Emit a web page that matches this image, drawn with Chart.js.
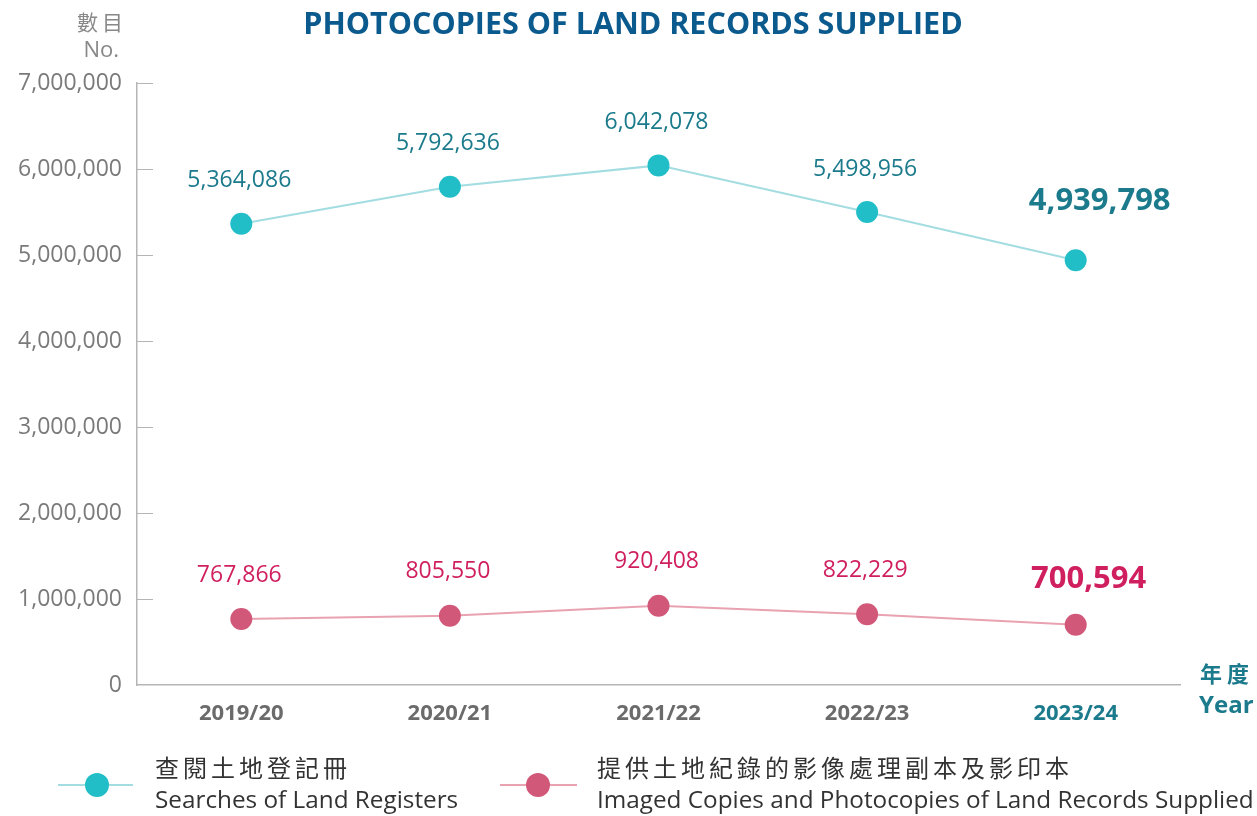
<!DOCTYPE html>
<html>
<head>
<meta charset="utf-8">
<script src="https://cdn.jsdelivr.net/npm/chart.js@4.4.1/dist/chart.umd.min.js"></script>
<style>
  body { margin: 0; background: #fff; }
  canvas { display: block; }
</style>
</head>
<body>
<canvas id="myChart" width="1257" height="816"></canvas>
<script>
// данные
const years = ["2019/20", "2020/21", "2021/22", "2022/23", "2023/24"];
const searches = [5364086, 5792636, 6042078, 5498956, 4939798];
const copies = [767866, 805550, 920408, 822229, 700594];
const yTicks = [0, 1000000, 2000000, 3000000, 4000000, 5000000, 6000000, 7000000];

const FONT = "'Open Sans', 'Noto Sans CJK TC', sans-serif";
const tealDot = "#22bec8";
const tealLine = "#a3dde1";
const tealText = "#1b7a8b";
const pinkDot = "#d2587a";
const pinkLine = "#e8a2b0";
const pinkText = "#d01f5e";
const axisColor = "#b5b5b5";

function fmt(v) {
	return v.toLocaleString("en-US");
}

// подписи, заголовки, легенда
const extras = {
	id: "extras",
	afterDraw(chart) {
		const c = chart.ctx;
		const area = chart.chartArea;
		const y = chart.scales.y;
		c.save();

		// короткие засечки внутрь
		c.strokeStyle = axisColor;
		c.lineWidth = 1;
		yTicks.forEach((t) => {
			if (t === 0) return;
			const py = Math.round(y.getPixelForValue(t)) + 0.5;
			c.beginPath();
			c.moveTo(area.left, py);
			c.lineTo(area.left + 16, py);
			c.stroke();
		});

		// заголовок
		c.fillStyle = "#0b5a8e";
		c.font = "bold 30.5px " + FONT;
		c.textAlign = "center";
		c.textBaseline = "middle";
		c.fillText("PHOTOCOPIES OF LAND RECORDS SUPPLIED", 633, 25);

		// подписи осей
		c.fillStyle = "#888";
		c.font = "21px " + FONT;
		c.textAlign = "left";
		c.letterSpacing = "4px";
		c.fillText("數目", 77, 24);
		c.letterSpacing = "0px";
		c.font = "22px " + FONT;
		c.textAlign = "right";
		c.fillText("No.", 119, 51);

		c.fillStyle = tealText;
		c.font = "bold 22px " + FONT;
		c.textAlign = "left";
		c.letterSpacing = "5px";
		c.fillText("年度", 1200, 676);
		c.letterSpacing = "0px";
		c.font = "bold 24px " + FONT;
		c.fillText("Year", 1199, 706);

		// значения
		const drawLabels = (dsIndex, values, color, gap, lastGap, lastShift) => {
			const meta = chart.getDatasetMeta(dsIndex);
			values.forEach((v, i) => {
				const pt = meta.data[i];
				const last = i === values.length - 1;
				c.fillStyle = color;
				c.textAlign = "center";
				c.font = last ? "bold 31px " + FONT : "23px " + FONT;
				c.fillText(fmt(v), pt.x + (last ? lastShift : -2), pt.y - (last ? lastGap : gap));
			});
		};
		drawLabels(0, searches, tealText, 43, 59, 24);
		drawLabels(1, copies, pinkText, 44, 46, 13);

		// легенда
		const legendItem = (x1, x2, cx, line, dot, textX, zh, en) => {
			c.strokeStyle = line;
			c.lineWidth = 2;
			c.beginPath();
			c.moveTo(x1, 785);
			c.lineTo(x2, 785);
			c.stroke();
			c.fillStyle = dot;
			c.beginPath();
			c.arc(cx, 785, 12, 0, Math.PI * 2);
			c.fill();
			c.fillStyle = "#333";
			c.textAlign = "left";
			c.font = "24px " + FONT;
			c.letterSpacing = "4px";
			c.fillText(zh, textX, 770);
			c.letterSpacing = "0px";
			c.font = "24.3px " + FONT;
			c.fillText(en, textX, 801);
		};
		legendItem(58, 133, 97, tealLine, tealDot, 155, "查閱土地登記冊", "Searches of Land Registers");
		legendItem(500, 577, 538, pinkLine, pinkDot, 597, "提供土地紀錄的影像處理副本及影印本", "Imaged Copies and Photocopies of Land Records Supplied");

		c.restore();
	},
};

const config = {
	type: "line",
	data: {
		labels: years,
		datasets: [
			{
				label: "Searches of Land Registers",
				data: searches,
				borderColor: tealLine,
				borderWidth: 2,
				pointBackgroundColor: tealDot,
				pointBorderWidth: 0,
				pointRadius: 11,
				tension: 0,
			},
			{
				label: "Imaged Copies and Photocopies of Land Records Supplied",
				data: copies,
				borderColor: pinkLine,
				borderWidth: 2,
				pointBackgroundColor: pinkDot,
				pointBorderWidth: 0,
				pointRadius: 11,
				tension: 0,
			},
		],
	},
	options: {
		responsive: false,
		animation: false,
		layout: {
			padding: { top: 83, right: 77, left: 0, bottom: 0 },
		},
		plugins: {
			legend: { display: false },
			tooltip: { enabled: false },
		},
		scales: {
			x: {
				offset: true,
				grid: { drawOnChartArea: false, drawTicks: false },
				border: { color: axisColor, width: 1.5 },
				ticks: {
					padding: 16,
					font: { family: FONT, size: 22, weight: "bold" },
					color: (ctx) => (ctx.index === years.length - 1 ? tealText : "#6b6b6b"),
				},
				afterFit(scale) {
					scale.height = 131;
				},
			},
			y: {
				min: 0,
				max: 7000000,
				afterBuildTicks(scale) {
					scale.ticks = yTicks.map((v) => ({ value: v }));
				},
				grid: { drawOnChartArea: false, drawTicks: false },
				border: { color: axisColor, width: 1.5 },
				ticks: {
					padding: 15,
					font: { family: FONT, size: 23 },
					color: "#7a7a7a",
					callback: (v) => fmt(v),
				},
				afterFit(scale) {
					scale.width = 137;
				},
			},
		},
	},
	plugins: [extras],
};

new Chart(document.getElementById("myChart"), config);
</script>
</body>
</html>
